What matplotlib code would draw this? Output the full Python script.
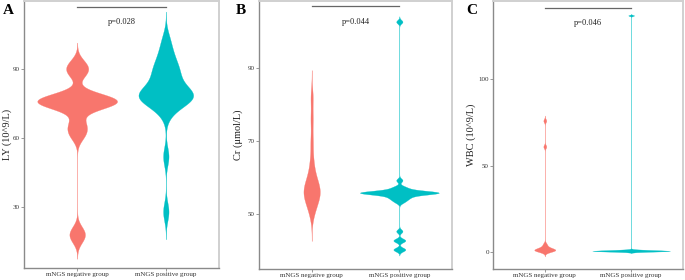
import numpy as np
import matplotlib
matplotlib.use("Agg")
import matplotlib.pyplot as plt

plt.rcParams['font.family'] = ['Liberation Serif', 'DejaVu Serif']

groups = ['mNGS negative group', 'mNGS positive group']
colors = ['#F8766D', '#00BFC4']

ly_neg = [16.5, 19.5, 61, 64, 67, 73.5, 74.5, 75, 75.5, 76, 76, 76.5, 77, 77.5, 78.5, 88, 90, 92.5]
ly_pos = [28, 52, 71, 74, 76, 77, 77.5, 78, 78, 78.5, 79, 80, 81, 83, 85, 87, 89, 90, 92, 95, 98, 103]

cr_neg = [50, 52, 53, 54, 55, 55.5, 56, 56.5, 57, 58, 59, 60, 62, 65, 70, 76, 82]
cr_pos = [40.0, 40.3, 42.5, 42.8, 45.2, 53.2, 53.8, 54.2, 54.6, 54.8, 55.2, 55.5,
          55.8, 55.8, 55.8, 55.8, 55.8, 55.8, 55.8, 55.8, 55.8, 55.8,
          56.2, 56.6, 57.0, 57.4, 59.2, 102.8]

wbc_neg = [0.3, 0.6, 0.8, 1.0, 1.0, 1.2, 1.5, 2.0, 3.0, 4.5, 61, 76]
wbc_pos = [0.1, 0.2, 0.2, 0.3, 0.3, 0.4, 0.4, 0.5, 0.5, 0.5, 0.6, 0.6,
           0.7, 0.7, 0.8, 0.9, 1.0, 1.2, 137]

p_values = ['p=0.028', 'p=0.044', 'p=0.046']
ylabels = ['LY (10^9/L)', 'Cr (\u03bcmol/L)', 'WBC (10^9/L)']
yticks = [[30, 60, 90], [50, 70, 90], [0, 50, 100]]
letters = ['A', 'B', 'C']

panels = [
    dict(data=[ly_neg, ly_pos], bw=[3.0, 4.0], ylim=(3.5, 119.6), line_y=117, text_y=110.4,
         box=(24, 219, 1, 268), ylab_x=7, letter_xy=(8, 10)),
    dict(data=[cr_neg, cr_pos], bw=[2.5, 0.5], ylim=(34.8, 108.5), line_y=107.2, text_y=102.6,
         box=(259, 452, 1, 269), ylab_x=238, letter_xy=(241, 11)),
    dict(data=[wbc_neg, wbc_pos], bw=[1.0, 0.3], ylim=(-10, 145.4), line_y=141.5, text_y=132.9,
         box=(493, 683, 1, 269), ylab_x=471, letter_xy=(472, 10)),
]

W, H = 685, 280


def kde(values, bw):
    v = np.asarray(values, dtype=float)
    grid = np.linspace(v.min() - 3 * bw, v.max() + 3 * bw, 512)
    z = (grid[:, None] - v[None, :]) / bw
    dens = np.exp(-0.5 * z ** 2).sum(axis=1) / (len(v) * bw * np.sqrt(2 * np.pi))
    return grid, dens


fig = plt.figure(figsize=(W / 100, H / 100), dpi=100)

for i, p in enumerate(panels):
    l, r, t, b = p['box']
    ax = fig.add_axes([l / W, 1 - b / H, (r - l) / W, (b - t) / H])

    curves = [kde(d, bw) for d, bw in zip(p['data'], p['bw'])]
    dmax = max(c[1].max() for c in curves)
    for k, (grid, dens) in enumerate(curves):
        half = 0.45 * dens / dmax
        ax.fill_betweenx(grid, k + 1 - half, k + 1 + half, facecolor=colors[k],
                         edgecolor=colors[k], linewidth=0.2)

    ax.plot([1, 2], [p['line_y'], p['line_y']], color='#666666', linewidth=0.9)
    ax.text(1.5, p['text_y'], p_values[i], ha='center', va='center', fontsize=6, color='#222222')

    ax.set_xlim(0.4, 2.6)
    ax.set_ylim(*p['ylim'])
    ax.set_xticks([1, 2])
    ax.set_xticklabels(groups)
    ax.set_yticks(yticks[i])
    ax.tick_params(labelsize=5, colors='#333333', length=2, width=0.6, pad=1)
    ax.tick_params(color='#888888')
    for s in ['left', 'bottom']:
        ax.spines[s].set_color('#8a8a8a')
        ax.spines[s].set_linewidth(1.0)
    for s in ['top', 'right']:
        ax.spines[s].set_color('#d0d0d0')
        ax.spines[s].set_linewidth(1.4)

    fig.text(p['ylab_x'] / W, 1 - (t + b) / 2 / H, ylabels[i], rotation=90, ha='center',
             va='center', fontsize=7.5, color='#222222')
    lx, ly = p['letter_xy']
    fig.text(lx / W, 1 - ly / H, letters[i], ha='center', va='center', fontsize=11,
             fontweight='bold', color='black')

fig.savefig('out.png', dpi=100)
